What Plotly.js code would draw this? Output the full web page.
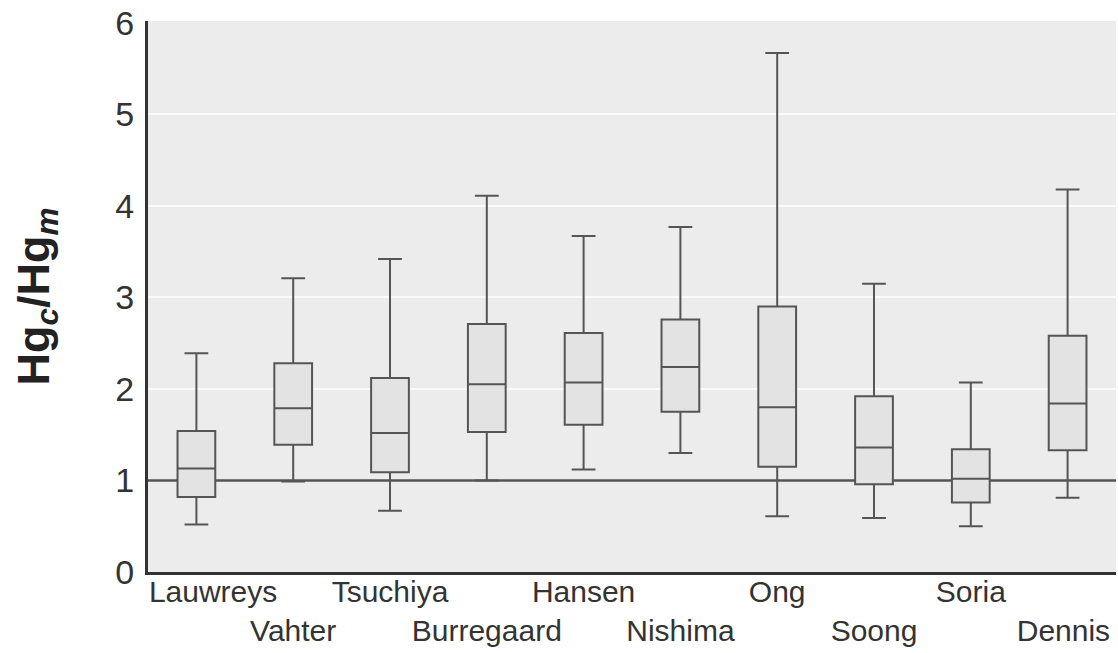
<!DOCTYPE html>
<html>
<head>
<meta charset="utf-8">
<script src="https://cdn.plot.ly/plotly-3.0.1.min.js"></script>
<style>
  html, body { margin: 0; padding: 0; background: #ffffff; }
  #chart { width: 1118px; height: 653px; }
</style>
</head>
<body>
<div id="chart"></div>
<script>
// Studies, in plotting order
const studies = ["Lauwreys", "Vahter", "Tsuchiya", "Burregaard", "Hansen",
                 "Nishima", "Ong", "Soong", "Soria", "Dennis"];

// Box statistics of the cord/maternal mercury ratio per study
const lowerWhisker = [0.52, 0.99, 0.67, 1.00, 1.12, 1.30, 0.61, 0.59, 0.50, 0.81];
const quartile1    = [0.82, 1.39, 1.09, 1.53, 1.61, 1.75, 1.15, 0.96, 0.76, 1.33];
const medians      = [1.13, 1.79, 1.52, 2.05, 2.07, 2.24, 1.80, 1.36, 1.02, 1.84];
const quartile3    = [1.54, 2.28, 2.12, 2.71, 2.61, 2.76, 2.90, 1.92, 1.34, 2.58];
const upperWhisker = [2.39, 3.21, 3.42, 4.11, 3.67, 3.77, 5.67, 3.15, 2.07, 4.18];

// Alternating label rows: every second study drops to a second line.
// The first label is nudged clear of the y axis, the last clear of the edge.
const tickLabels = studies.map((s, i) => {
  let t = (i % 2 === 0 ? s : "<br>" + s);
  if (i === 0) t = "\u00a0\u00a0\u00a0\u00a0" + t;
  if (i === studies.length - 1) t = t + "\u00a0";
  return t;
});
const yTicks = [0, 1, 2, 3, 4, 5, 6];
const gridLevels = [2, 3, 4, 5];

// Reference level where cord and maternal concentrations are equal
const unityLevel = 1;

const FONT = "'Liberation Sans', Arial, sans-serif";
const Y_RANGE = [0, 6.02];

const trace = {
  type: "box",
  x: studies,
  lowerfence: lowerWhisker,
  q1: quartile1,
  median: medians,
  q3: quartile3,
  upperfence: upperWhisker,
  width: 0.39,
  whiskerwidth: 0.63,
  fillcolor: "#e3e3e3",
  line: { color: "#555555", width: 2 },
  boxpoints: false,
  hoverinfo: "skip",
  showlegend: false
};

const layout = {
  width: 1118,
  height: 653,
  margin: { l: 148, r: 2, t: 21, b: 81 },
  paper_bgcolor: "#ffffff",
  plot_bgcolor: "#ececec",
  font: { family: FONT, color: "#333333" },
  xaxis: {
    type: "category",
    categoryorder: "array",
    categoryarray: studies,
    range: [-0.5, studies.length - 0.5],
    tickvals: studies,
    ticktext: tickLabels,
    tickangle: 0,
    ticks: "",
    ticklabelstandoff: -9,
    showgrid: false,
    showline: true,
    linecolor: "#333333",
    linewidth: 3,
    tickfont: { family: FONT, size: 30, color: "#333333" },
    fixedrange: true
  },
  yaxis: {
    range: Y_RANGE,
    tickvals: yTicks,
    ticktext: yTicks.map(String),
    ticks: "",
    showgrid: false,
    zeroline: false,
    showline: true,
    linecolor: "#333333",
    linewidth: 3,
    ticklabelstandoff: 4,
    tickfont: { family: FONT, size: 34, color: "#333333" },
    title: {
      text: "<b>Hg<sub><i>c</i></sub>/Hg<sub><i>m</i></sub></b>",
      font: { family: FONT, size: 45, color: "#222222" },
      standoff: 52
    },
    fixedrange: true
  },
  // white horizontal guides at whole-number levels above the unity line
  yaxis2: {
    overlaying: "y",
    range: Y_RANGE,
    tickvals: gridLevels,
    showticklabels: false,
    ticks: "",
    showgrid: true,
    gridcolor: "#fafafa",
    gridwidth: 2,
    zeroline: false,
    showline: false,
    fixedrange: true
  },
  shapes: [{
    type: "line",
    xref: "paper",
    x0: 0,
    x1: 1,
    yref: "y",
    y0: unityLevel,
    y1: unityLevel,
    layer: "below",
    line: { color: "#555555", width: 2.5 }
  }]
};

// invisible carrier so the guide axis is drawn
const guideTrace = {
  type: "scatter",
  x: [studies[0]],
  y: [unityLevel],
  yaxis: "y2",
  mode: "markers",
  marker: { opacity: 0 },
  hoverinfo: "skip",
  showlegend: false
};

Plotly.newPlot("chart", [guideTrace, trace], layout, { displayModeBar: false, staticPlot: true });
</script>
</body>
</html>
